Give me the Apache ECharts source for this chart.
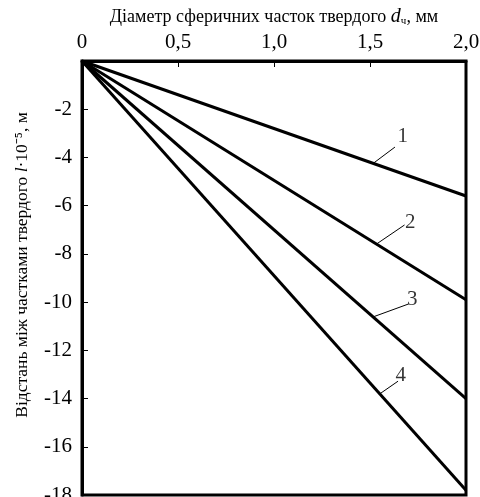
<!DOCTYPE html>
<html>
<head>
  <meta charset="utf-8" />
  <title>ECharts</title>
  <script src="https://cdn.jsdelivr.net/npm/echarts@6/dist/echarts.min.js"></script>
</head>
<body style="margin:0">
  <div id="main" style="width: 480px;height:497px;"></div>
  <script type="text/javascript">
    // діаметр частинок, мм
    var diam = [0, 2.0];
    // кінцеві значення ліній 1..4 при d = 2,0
    var curve1 = [0, -5.6];
    var curve2 = [0, -9.9];
    var curve3 = [0, -14.0];
    var curve4 = [0, -17.8];
    var curveNames = ['1', '2', '3', '4'];
    // позиції підписів та виносок (в одиницях осей)
    var labelPos = [[1.67, -3.15], [1.71, -6.7], [1.72, -9.9], [1.66, -13.05]];
    var leaderFrom = [[1.516, -4.25], [1.536, -7.58], [1.521, -10.6], [1.552, -13.8]];
    var leaderTo = [[1.63, -3.57], [1.68, -6.8], [1.70, -10.08], [1.646, -13.28]];

    var myChart = echarts.init(document.getElementById('main'));
    var font = 'Liberation Serif';

    var seriesList = [];
    [curve1, curve2, curve3, curve4].forEach(function (c, i) {
      seriesList.push({
        type: 'line',
        name: curveNames[i],
        data: diam.map(function (d, k) { return [d, c[k]]; }),
        showSymbol: false,
        lineStyle: { color: '#000', width: 3 },
        silent: true
      });
      seriesList.push({
        type: 'line',
        data: [leaderFrom[i], leaderTo[i]],
        showSymbol: false,
        lineStyle: { color: '#000', width: 1 },
        silent: true
      });
    });
    seriesList.push({
      type: 'scatter',
      symbolSize: 0,
      data: labelPos.map(function (p, i) { return { value: p, name: curveNames[i] }; }),
      label: {
        show: true,
        position: 'inside',
        formatter: '{b}',
        color: '#000',
        fontFamily: font,
        fontSize: 21
      },
      silent: true
    });

    var option = {
      animation: false,
      backgroundColor: '#fff',
      grid: {
        left: 82, right: 14, top: 61, bottom: 2,
        containLabel: false,
        outerBoundsMode: 'none',
        show: true, borderColor: '#000', borderWidth: 3
      },
      xAxis: {
        type: 'value',
        position: 'top',
        min: 0, max: 2, interval: 0.5,
        name: 'Діаметр сферичних часток твердого {i|d}{s|ч}, мм',
        nameLocation: 'middle',
        nameGap: 32,
        nameTextStyle: {
          color: '#000', fontFamily: font, fontSize: 18,
          rich: {
            i: { fontFamily: font, fontStyle: 'italic', fontSize: 20, color: '#000' },
            s: { fontFamily: font, fontSize: 11, color: '#000', padding: [8, 0, 0, 0] }
          }
        },
        axisLine: { lineStyle: { color: '#000', width: 3 } },
        axisTick: { inside: true, length: 6, lineStyle: { color: '#000', width: 1 } },
        splitLine: { show: false },
        axisLabel: {
          color: '#000', fontFamily: font, fontSize: 21, margin: 8,
          formatter: function (v) { return v === 0 ? '0' : v.toFixed(1).replace('.', ','); }
        }
      },
      yAxis: {
        type: 'value',
        min: -18, max: 0, interval: 2,
        name: 'Відстань між частками твердого {i|l}·10⁻⁵, м',
        nameLocation: 'middle',
        nameGap: 51,
        nameRotate: 90,
        nameTextStyle: {
          color: '#000', fontFamily: font, fontSize: 17.5,
          padding: [0, 0, 0, 26],
          rich: {
            i: { fontFamily: font, fontStyle: 'italic', fontSize: 17.5, color: '#000' }
          }
        },
        axisLine: { lineStyle: { color: '#000', width: 3 } },
        axisTick: { inside: true, length: 6, lineStyle: { color: '#000', width: 1 } },
        splitLine: { show: false },
        axisLabel: {
          color: '#000', fontFamily: font, fontSize: 21, margin: 10,
          formatter: function (v) { return v === 0 ? '' : String(v); }
        }
      },
      series: seriesList
    };
    myChart.setOption(option);
  </script>
</body>
</html>
